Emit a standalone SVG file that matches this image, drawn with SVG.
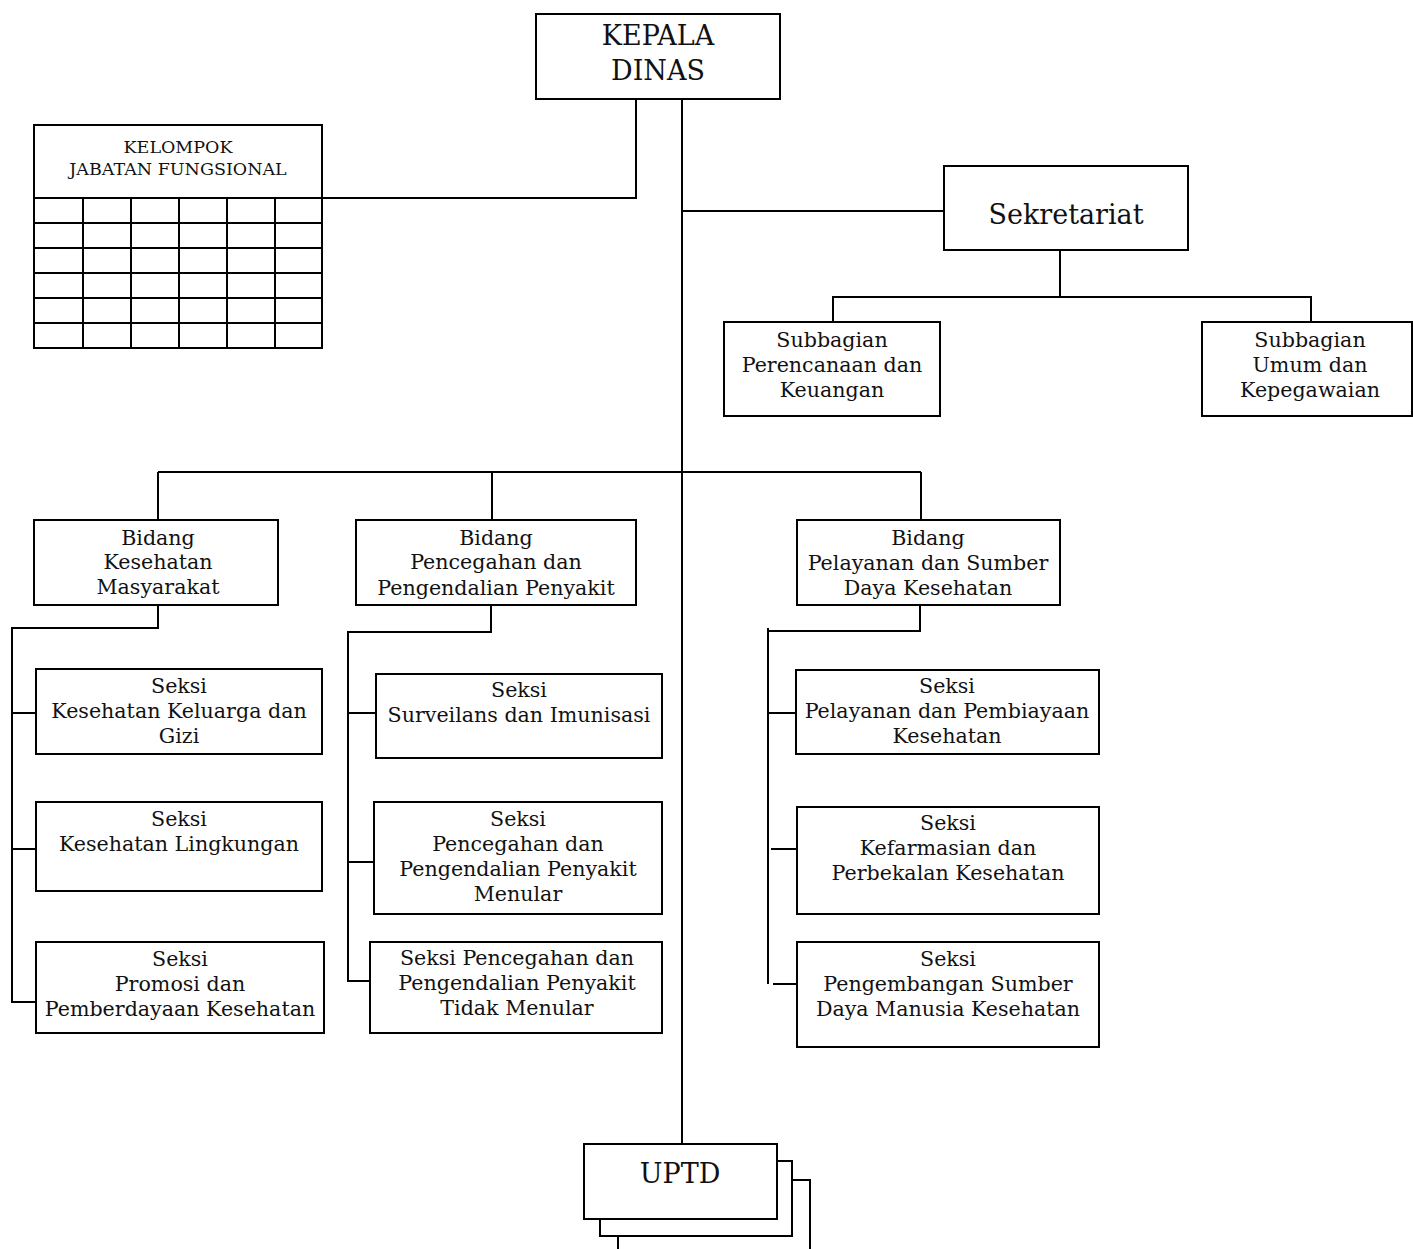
<svg xmlns="http://www.w3.org/2000/svg" width="1413" height="1249" viewBox="0 0 1413 1249">
<style>
rect{fill:#fff;stroke:#000;stroke-width:2}
line,polyline{fill:none;stroke:#000;stroke-width:2}
text{font-family:"DejaVu Serif","Liberation Serif",serif;fill:#111;text-anchor:middle}
.s{font-size:20.6px}
.b{font-size:27px}
.k{font-size:17.5px}
</style>
<rect x="0" y="0" width="1413" height="1249" style="fill:#fff;stroke:none"/>
<g id="connectors">
<line x1="682" y1="98" x2="682" y2="1144"/>
<polyline points="636,98 636,198 322,198"/>
<line x1="682" y1="211" x2="944" y2="211"/>
<line x1="1060" y1="250" x2="1060" y2="297"/>
<polyline points="833,322 833,297 1311,297 1311,322"/>
<line x1="158" y1="472" x2="921" y2="472"/>
<line x1="158" y1="472" x2="158" y2="520"/>
<line x1="492" y1="472" x2="492" y2="520"/>
<line x1="921" y1="472" x2="921" y2="520"/>
<polyline points="158,605 158,628 12,628 12,1003"/>
<line x1="12" y1="713" x2="36" y2="713"/>
<line x1="12" y1="849" x2="36" y2="849"/>
<line x1="12" y1="1002" x2="36" y2="1002"/>
<polyline points="491,605 491,632 348,632 348,982"/>
<line x1="348" y1="713" x2="376" y2="713"/>
<line x1="348" y1="862" x2="374" y2="862"/>
<line x1="348" y1="981" x2="370" y2="981"/>
<polyline points="920,605 920,631 768,631"/>
<line x1="768" y1="628" x2="768" y2="984"/>
<line x1="768" y1="713" x2="796" y2="713"/>
<line x1="771" y1="849" x2="797" y2="849"/>
<line x1="773" y1="984" x2="797" y2="984"/>
</g>
<g id="kepala">
<rect x="536" y="14" width="244" height="85"/>
<text class="b" x="658" y="45">KEPALA</text>
<text class="b" x="658" y="80">DINAS</text>
</g>
<g id="kjf">
<rect x="34" y="125" width="288" height="73"/>
<text class="k" x="178" y="153">KELOMPOK</text>
<text class="k" x="178" y="175">JABATAN FUNGSIONAL</text>
<rect x="34" y="198" width="288" height="150"/>
<g>
<line x1="34" y1="223" x2="322" y2="223"/>
<line x1="34" y1="248" x2="322" y2="248"/>
<line x1="34" y1="273" x2="322" y2="273"/>
<line x1="34" y1="298" x2="322" y2="298"/>
<line x1="34" y1="323" x2="322" y2="323"/>
<line x1="83" y1="198" x2="83" y2="348"/>
<line x1="131" y1="198" x2="131" y2="348"/>
<line x1="179" y1="198" x2="179" y2="348"/>
<line x1="227" y1="198" x2="227" y2="348"/>
<line x1="275" y1="198" x2="275" y2="348"/>
</g>
</g>
<g id="sekretariat">
<rect x="944" y="166" width="244" height="84"/>
<text class="b" x="1066" y="224">Sekretariat</text>
</g>
<g id="sub-pk">
<rect x="724" y="322" width="216" height="94"/>
<text class="s" x="832" y="347">Subbagian</text>
<text class="s" x="832" y="372">Perencanaan dan</text>
<text class="s" x="832" y="397">Keuangan</text>
</g>
<g id="sub-uk">
<rect x="1202" y="322" width="210" height="94"/>
<text class="s" x="1310" y="347">Subbagian</text>
<text class="s" x="1310" y="372">Umum dan</text>
<text class="s" x="1310" y="397">Kepegawaian</text>
</g>
<g id="bidang-kesmas">
<rect x="34" y="520" width="244" height="85"/>
<text class="s" x="158" y="545">Bidang</text>
<text class="s" x="158" y="569">Kesehatan</text>
<text class="s" x="158" y="594">Masyarakat</text>
</g>
<g id="bidang-p2p">
<rect x="356" y="520" width="280" height="85"/>
<text class="s" x="496" y="545">Bidang</text>
<text class="s" x="496" y="569">Pencegahan dan</text>
<text class="s" x="496" y="595">Pengendalian Penyakit</text>
</g>
<g id="bidang-psdk">
<rect x="797" y="520" width="263" height="85"/>
<text class="s" x="928" y="545">Bidang</text>
<text class="s" x="928" y="570">Pelayanan dan Sumber</text>
<text class="s" x="928" y="595">Daya Kesehatan</text>
</g>
<g id="seksi-kkg">
<rect x="36" y="669" width="286" height="85"/>
<text class="s" x="179" y="693">Seksi</text>
<text class="s" x="179" y="718">Kesehatan Keluarga dan</text>
<text class="s" x="179" y="743">Gizi</text>
</g>
<g id="seksi-kl">
<rect x="36" y="802" width="286" height="89"/>
<text class="s" x="179" y="826">Seksi</text>
<text class="s" x="179" y="851">Kesehatan Lingkungan</text>
</g>
<g id="seksi-ppk">
<rect x="36" y="942" width="288" height="91"/>
<text class="s" x="180" y="966">Seksi</text>
<text class="s" x="180" y="991">Promosi dan</text>
<text class="s" x="180" y="1016">Pemberdayaan Kesehatan</text>
</g>
<g id="seksi-si">
<rect x="376" y="674" width="286" height="84"/>
<text class="s" x="519" y="697">Seksi</text>
<text class="s" x="519" y="722">Surveilans dan Imunisasi</text>
</g>
<g id="seksi-p2pm">
<rect x="374" y="802" width="288" height="112"/>
<text class="s" x="518" y="826">Seksi</text>
<text class="s" x="518" y="851">Pencegahan dan</text>
<text class="s" x="518" y="876">Pengendalian Penyakit</text>
<text class="s" x="518" y="901">Menular</text>
</g>
<g id="seksi-p2ptm">
<rect x="370" y="942" width="292" height="91"/>
<text class="s" x="517" y="965">Seksi Pencegahan dan</text>
<text class="s" x="517" y="990">Pengendalian Penyakit</text>
<text class="s" x="517" y="1015">Tidak Menular</text>
</g>
<g id="seksi-ppbk">
<rect x="796" y="670" width="303" height="84"/>
<text class="s" x="947" y="693">Seksi</text>
<text class="s" x="947" y="718">Pelayanan dan Pembiayaan</text>
<text class="s" x="947" y="743">Kesehatan</text>
</g>
<g id="seksi-kpk">
<rect x="797" y="807" width="302" height="107"/>
<text class="s" x="948" y="830">Seksi</text>
<text class="s" x="948" y="855">Kefarmasian dan</text>
<text class="s" x="948" y="880">Perbekalan Kesehatan</text>
</g>
<g id="seksi-psdmk">
<rect x="797" y="942" width="302" height="105"/>
<text class="s" x="948" y="966">Seksi</text>
<text class="s" x="948" y="991">Pengembangan Sumber</text>
<text class="s" x="948" y="1016">Daya Manusia Kesehatan</text>
</g>
<g id="uptd">
<rect x="618" y="1180" width="192" height="90"/>
<rect x="600" y="1161" width="192" height="75"/>
<rect x="584" y="1144" width="193" height="75"/>
<text class="b" x="680" y="1183">UPTD</text>
</g>
</svg>
